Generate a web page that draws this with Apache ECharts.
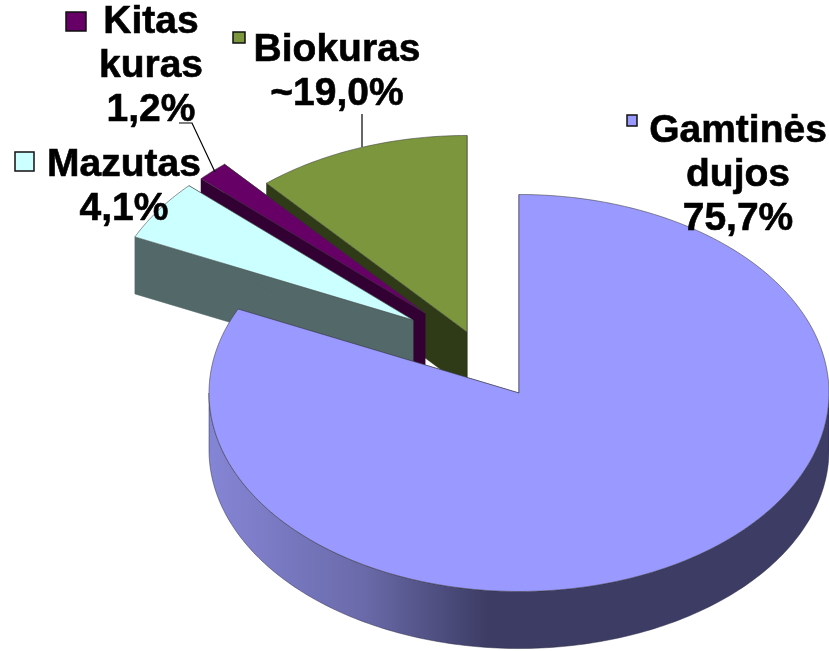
<!DOCTYPE html>
<html>
<head>
<meta charset="utf-8">
<style>html,body{margin:0;padding:0;background:#fff}#c{width:829px;height:651px}</style>
<script src="https://cdn.jsdelivr.net/npm/echarts@6/dist/echarts.min.js"></script>
</head>
<body>
<div id="c"></div>
<script>
const categories = ['Gamtinės dujos', 'Mazutas', 'Kitas kuras', 'Biokuras'];
const wedgeShares = [81.94, 5.03, 1.69, 11.33];
const labelTexts = ['Gamtinės\ndujos\n75,7%', 'Mazutas\n4,1%', 'Kitas\nkuras\n1,2%', 'Biokuras\n~19,0%'];

// Styles
const topColors = ['#9999ff', '#ccffff', '#660066', '#7b963c'];
const wallColors = ['#3c3c64', '#536868', '#330033', '#2f3a17'];
// Layout
const apexes = [[519, 393], [413, 320], [425, 313], [467, 332]];
const radiusScale = [1, 0.99, 0.99, 0.99];
const RX = 310, RY = 198.5, DEPTH = 57;
const labelPos = [[738, 109], [124, 143], [151, 0], [337, 28]];
const keyBoxes = [[627, 115, 10, 11], [15, 152, 19, 19], [66, 12, 20, 19], [233, 32, 12, 11]];
const leaders = [null, null, [[179, 123], [192, 123], [215, 172]], [[362, 114], [362, 147]]];

const total = wedgeShares.reduce((a, b) => a + b, 0);
function point(c, deg, dy, s) {
  const r = deg * Math.PI / 180;
  return [c[0] + s * RX * Math.sin(r), c[1] - s * RY * Math.cos(r) + (dy || 0)];
}
function arc(c, a0, a1, dy, s) {
  const pts = [], n = Math.max(2, Math.ceil(Math.abs(a1 - a0)));
  for (let k = 0; k <= n; k++) pts.push(point(c, a0 + (a1 - a0) * k / n, dy, s));
  return pts;
}
function renderSlice(params, api) {
  const i = params.dataIndex;
  let before = 0;
  for (let k = 0; k < i; k++) before += wedgeShares[k];
  const a0 = before / total * 360, a1 = a0 + api.value(0) / total * 360;
  const c = apexes[i], s = radiusScale[i], base = (wedgeShares.length - i) * 10;
  const children = [];
  const wall = (points, fill) => children.push({
    type: 'polygon', z2: base, shape: { points },
    style: { fill, stroke: fill, lineWidth: 0.5 }
  });
  // cut faces
  [a0, a1].forEach(a => {
    const p = point(c, a, 0, s);
    wall([c, p, [p[0], p[1] + DEPTH], [c[0], c[1] + DEPTH]], wallColors[i]);
  });
  // visible outer rim (front half of the ellipse only)
  const f0 = Math.max(a0, 90), f1 = Math.min(a1, 270);
  if (f1 > f0) {
    const rim = arc(c, f0, f1, 0, s).concat(arc(c, f1, f0, DEPTH, s));
    children.push({
      type: 'polygon', z2: base + 1, shape: { points: rim },
      style: {
        fill: {
          type: 'linear', x: 0, y: 0, x2: 1, y2: 0,
          colorStops: [
            { offset: 0, color: '#8585d6' },
            { offset: 0.25, color: '#6a6aaa' },
            { offset: 0.45, color: wallColors[i] },
            { offset: 1, color: wallColors[i] }
          ]
        },
        stroke: 'rgba(40,40,70,0.6)', lineWidth: 0.8
      }
    });
  }
  // top surface
  children.push({
    type: 'polygon', z2: base + 2,
    shape: { points: [c].concat(arc(c, a0, a1, 0, s)) },
    style: { fill: topColors[i], stroke: 'rgba(60,60,60,0.55)', lineWidth: 1 }
  });
  return { type: 'group', children };
}

const graphics = [];
labelTexts.forEach((t, i) => {
  graphics.push({
    type: 'text', z: 10, x: labelPos[i][0], y: labelPos[i][1],
    style: {
      text: t, fill: '#000', stroke: '#000', lineWidth: 0.6, align: 'center', verticalAlign: 'top',
      font: 'bold 39px "Liberation Sans", Arial, sans-serif', lineHeight: 44
    }
  });
  const b = keyBoxes[i];
  graphics.push({
    type: 'rect', z: 10, shape: { x: b[0], y: b[1], width: b[2], height: b[3] },
    style: { fill: topColors[i], stroke: '#111', lineWidth: 1.5 }
  });
  if (leaders[i]) graphics.push({
    type: 'polyline', z: 10, shape: { points: leaders[i] },
    style: { fill: null, stroke: '#000', lineWidth: 1.2 }
  });
});

const chart = echarts.init(document.getElementById('c'), null, { renderer: 'canvas' });
chart.setOption({
  animation: false,
  backgroundColor: '#ffffff',
  series: [{
    type: 'custom',
    coordinateSystem: 'none',
    silent: true,
    renderItem: renderSlice,
    data: wedgeShares.map((v, i) => ({ name: categories[i], value: [v] }))
  }],
  graphic: graphics
});
</script>
</body>
</html>
